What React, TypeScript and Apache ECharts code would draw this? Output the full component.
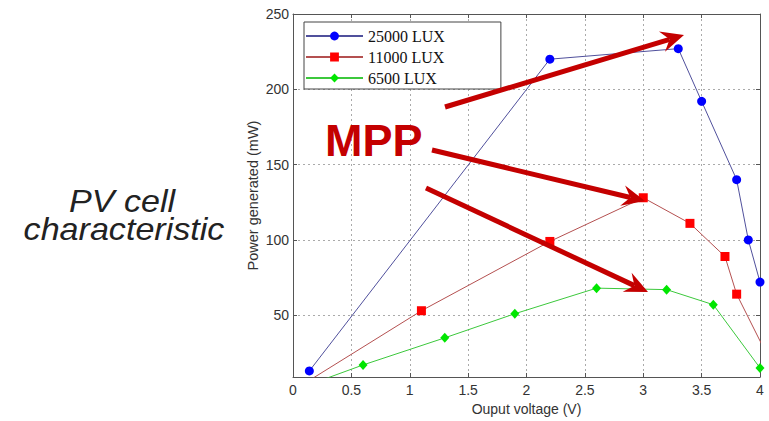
import React, { useEffect, useRef } from 'react';
import * as echarts from 'echarts';

const seriesNames = ['25000 LUX', '11000 LUX', '6500 LUX'];
const lux25000: number[][] = [[0.14, 13], [2.2, 220], [3.3, 227], [3.5, 192], [3.8, 140], [3.9, 100], [4.0, 72]];
const lux11000: number[][] = [[0, 0], [1.1, 53], [2.2, 99], [3.0, 128], [3.4, 111], [3.7, 89], [3.8, 64], [4.2, 2]];
const lux6500: number[][] = [[0, 0], [0.6, 17], [1.3, 35], [1.9, 51], [2.6, 68], [3.2, 67], [3.6, 57], [4.0, 15]];
const yTicks = [50, 100, 150, 200, 250];
const xAxisTitle = 'Ouput voltage (V)';
const yAxisTitle = 'Power generated (mW)';
const sideTitle = ['PV cell', 'characteristic'];
const calloutText = 'MPP';
// arrow annotations in pixel space: [x1, y1, x2, y2]
const arrows: number[][] = [[445, 107, 684, 35], [432, 150, 645, 201], [426, 188, 648, 292]];

const ARROW_COLOR = '#c40000';

function arrowElements(a: number[]) {
  const [x1, y1, x2, y2] = a;
  const dx = x2 - x1, dy = y2 - y1;
  const len = Math.sqrt(dx * dx + dy * dy);
  const ux = dx / len, uy = dy / len;
  const px = -uy, py = ux;
  const L = 23, W = 10.5, notch = 15;
  const bx = x2 - ux * L, by = y2 - uy * L;
  const nx = x2 - ux * notch, ny = y2 - uy * notch;
  return [
    {
      type: 'line', z: 100,
      shape: { x1, y1, x2: nx, y2: ny },
      style: { stroke: ARROW_COLOR, lineWidth: 5 },
    },
    {
      type: 'polygon', z: 100,
      shape: { points: [[x2, y2], [bx + px * W, by + py * W], [nx, ny], [bx - px * W, by - py * W]] },
      style: { fill: ARROW_COLOR },
    },
  ];
}

export default function App() {
  const ref = useRef<HTMLDivElement>(null);
  useEffect(() => {
    if (!ref.current) return;
    const chart = echarts.init(ref.current, undefined, { renderer: 'svg' });
    const axisColor = '#555';
    const gridLine = { show: true, lineStyle: { color: '#aaa', type: [2, 3] as any, width: 1 } };
    const labelFont = { fontFamily: 'Liberation Sans', fontSize: 14, color: '#333' };
    chart.setOption({
      animation: false,
      backgroundColor: '#fff',
      grid: { left: 293, right: 9, top: 14, bottom: 41, containLabel: false },
      legend: {
        data: seriesNames,
        orient: 'vertical',
        left: 304,
        top: 22,
        itemWidth: 57,
        itemHeight: 11,
        itemGap: 5,
        padding: [6, 56, 3, 1],
        backgroundColor: '#fff',
        borderColor: '#444',
        borderWidth: 1,
        borderRadius: 0,
        textStyle: { fontFamily: 'Liberation Serif', fontSize: 16, color: '#111', lineHeight: 16 },
      },
      xAxis: [
        {
          type: 'value', min: 0, max: 4, interval: 0.5, position: 'bottom',
          name: xAxisTitle, nameLocation: 'middle', nameGap: 25, nameMoveOverlap: false,
          nameTextStyle: { ...labelFont },
          axisLine: { show: true, onZero: false, lineStyle: { color: axisColor } },
          axisTick: { show: true, inside: true, length: 4, lineStyle: { color: axisColor } },
          axisLabel: { ...labelFont, margin: 6 },
          splitLine: gridLine,
        },
        {
          type: 'value', min: 0, max: 4, interval: 0.5, position: 'top',
          axisLine: { show: true, onZero: false, lineStyle: { color: axisColor } },
          axisTick: { show: true, inside: true, length: 4, lineStyle: { color: axisColor } },
          axisLabel: { show: false },
          splitLine: { show: false },
        },
      ],
      yAxis: [
        {
          type: 'value', min: 9, max: 250, position: 'left',
          name: yAxisTitle, nameLocation: 'middle', nameGap: 33, nameMoveOverlap: false,
          nameTextStyle: { ...labelFont, fontSize: 14.5 },
          axisLine: { show: true, onZero: false, lineStyle: { color: axisColor } },
          axisTick: { show: true, inside: true, length: 4, customValues: yTicks, lineStyle: { color: axisColor } },
          axisLabel: { ...labelFont, margin: 4, customValues: yTicks },
          splitLine: gridLine,
        },
        {
          type: 'value', min: 9, max: 250, position: 'right',
          axisLine: { show: true, onZero: false, lineStyle: { color: axisColor } },
          axisTick: { show: true, inside: true, length: 4, customValues: yTicks, lineStyle: { color: axisColor } },
          axisLabel: { show: false, customValues: yTicks },
          splitLine: { show: false },
        },
      ],
      series: [
        {
          name: seriesNames[0], type: 'line', data: lux25000, xAxisIndex: 0, yAxisIndex: 0,
          symbol: 'circle', symbolSize: 9, clip: true,
          itemStyle: { color: '#0000ff' },
          lineStyle: { color: '#50509c', width: 1 },
        },
        {
          name: seriesNames[1], type: 'line', data: lux11000, xAxisIndex: 0, yAxisIndex: 0,
          symbol: 'rect', symbolSize: 9, clip: true,
          itemStyle: { color: '#ff0000' },
          lineStyle: { color: '#b45050', width: 1 },
        },
        {
          name: seriesNames[2], type: 'line', data: lux6500, xAxisIndex: 0, yAxisIndex: 0,
          symbol: 'diamond', symbolSize: [9, 10], clip: true,
          itemStyle: { color: '#00e600' },
          lineStyle: { color: '#3cc83c', width: 1 },
        },
      ],
      graphic: [
        {
          type: 'text', x: 122, y: 202, scaleX: 1.1, z: 100,
          style: { text: sideTitle[0], font: 'italic 31px "Liberation Sans"', fill: '#222', textAlign: 'center', textVerticalAlign: 'middle' },
        },
        {
          type: 'text', x: 124, y: 230, scaleX: 1.1, z: 100,
          style: { text: sideTitle[1], font: 'italic 31px "Liberation Sans"', fill: '#222', textAlign: 'center', textVerticalAlign: 'middle' },
        },
        {
          type: 'text', x: 325, y: 140, z: 100,
          style: { text: calloutText, font: 'bold 45px "Liberation Sans"', fill: ARROW_COLOR, textAlign: 'left', textVerticalAlign: 'middle' },
        },
        ...arrows.flatMap(arrowElements),
      ],
    });
    return () => chart.dispose();
  }, []);
  return <div ref={ref} style={{ position: 'fixed', left: 0, top: 0, width: 769, height: 421 }} />;
}
